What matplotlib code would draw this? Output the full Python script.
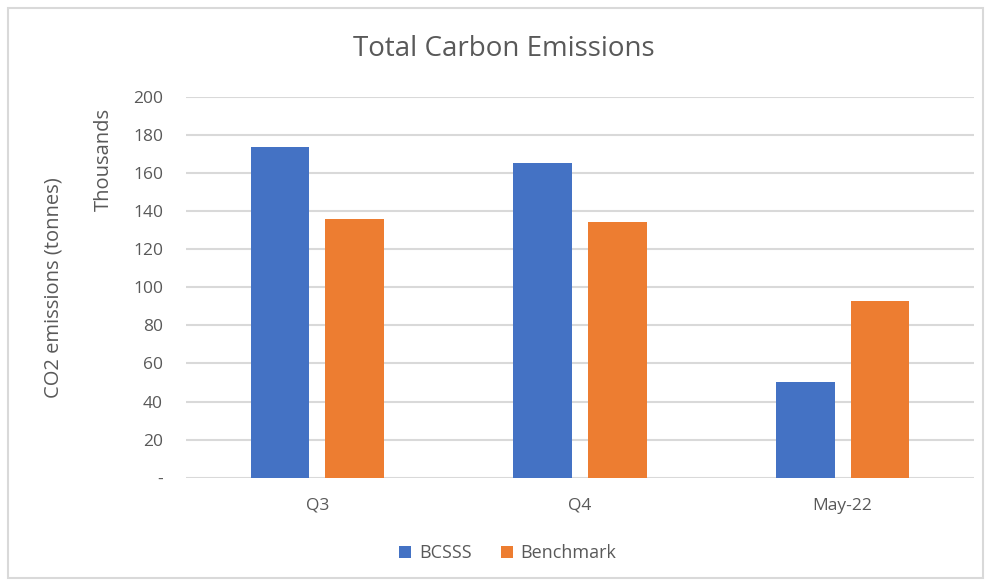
import matplotlib
matplotlib.use("Agg")
import matplotlib.pyplot as plt
import numpy as np
from matplotlib.patches import Rectangle

categories = ["Q3", "Q4", "May-22"]
bcsss = [173.5, 165.0, 50.2]
benchmark = [135.7, 134.0, 92.7]
series_names = ["BCSSS", "Benchmark"]
yticks = [0, 20, 40, 60, 80, 100, 120, 140, 160, 180, 200]
ytick_labels = ["-", "20", "40", "60", "80", "100", "120", "140", "160", "180", "200"]

plt.rcParams['font.family'] = ['Open Sans', 'DejaVu Sans']
txt = "#595959"
blue = "#4472C4"
orange = "#ED7D31"
grid = "#D9D9D9"

fig = plt.figure(figsize=(9.89, 5.83), dpi=100)
fig.patches.append(Rectangle((7.5/989, 1 - 578/583), 975/989, 570/583, transform=fig.transFigure,
                             fill=False, edgecolor="#D9D9D9", linewidth=1.5))
ax = fig.add_axes([186/989, 1 - 477.7/583, 788/989, 381/583])

x = np.arange(len(categories))
w = 0.223
gap = 0.061
ax.bar(x - (w + gap) / 2, bcsss, w, color=blue, label=series_names[0], zorder=3)
ax.bar(x + (w + gap) / 2, benchmark, w, color=orange, label=series_names[1], zorder=3)

ax.set_xlim(-0.5, len(categories) - 0.5)
ax.set_ylim(0, 200)
ax.set_yticks(yticks)
ax.set_yticklabels(ytick_labels)
ax.set_xticks(x)
ax.set_xticklabels(categories)
ax.yaxis.grid(True, color=grid, linewidth=1.5, zorder=0)
ax.set_axisbelow(True)
for s in ax.spines.values():
    s.set_visible(False)
ax.tick_params(axis='both', length=0, colors=txt, labelsize=12.5)
ax.tick_params(axis='y', pad=16.5)
ax.tick_params(axis='x', pad=14.5)
for lab in ax.get_yticklabels() + ax.get_xticklabels():
    lab.set_color(txt)

fig.text(504/989, 1 - 49/583, "Total Carbon Emissions", ha='center', va='center', fontsize=20, color=txt)
fig.text(103.5/989, 1 - 159/583, "Thousands", rotation=90, ha='center', va='center', fontsize=14.5, color=txt)
fig.text(54/989, 1 - 288/583, "CO2 emissions (tonnes)", rotation=90, ha='center', va='center', fontsize=14.5, color=txt)

leg = fig.legend(loc='center', bbox_to_anchor=(508/989, 1 - 553/583), ncol=2, frameon=False,
                 fontsize=13, handlelength=0.65, handleheight=0.65, handletextpad=0.45, columnspacing=1.6)
for t in leg.get_texts():
    t.set_color(txt)

fig.savefig("out.png", dpi=100)
